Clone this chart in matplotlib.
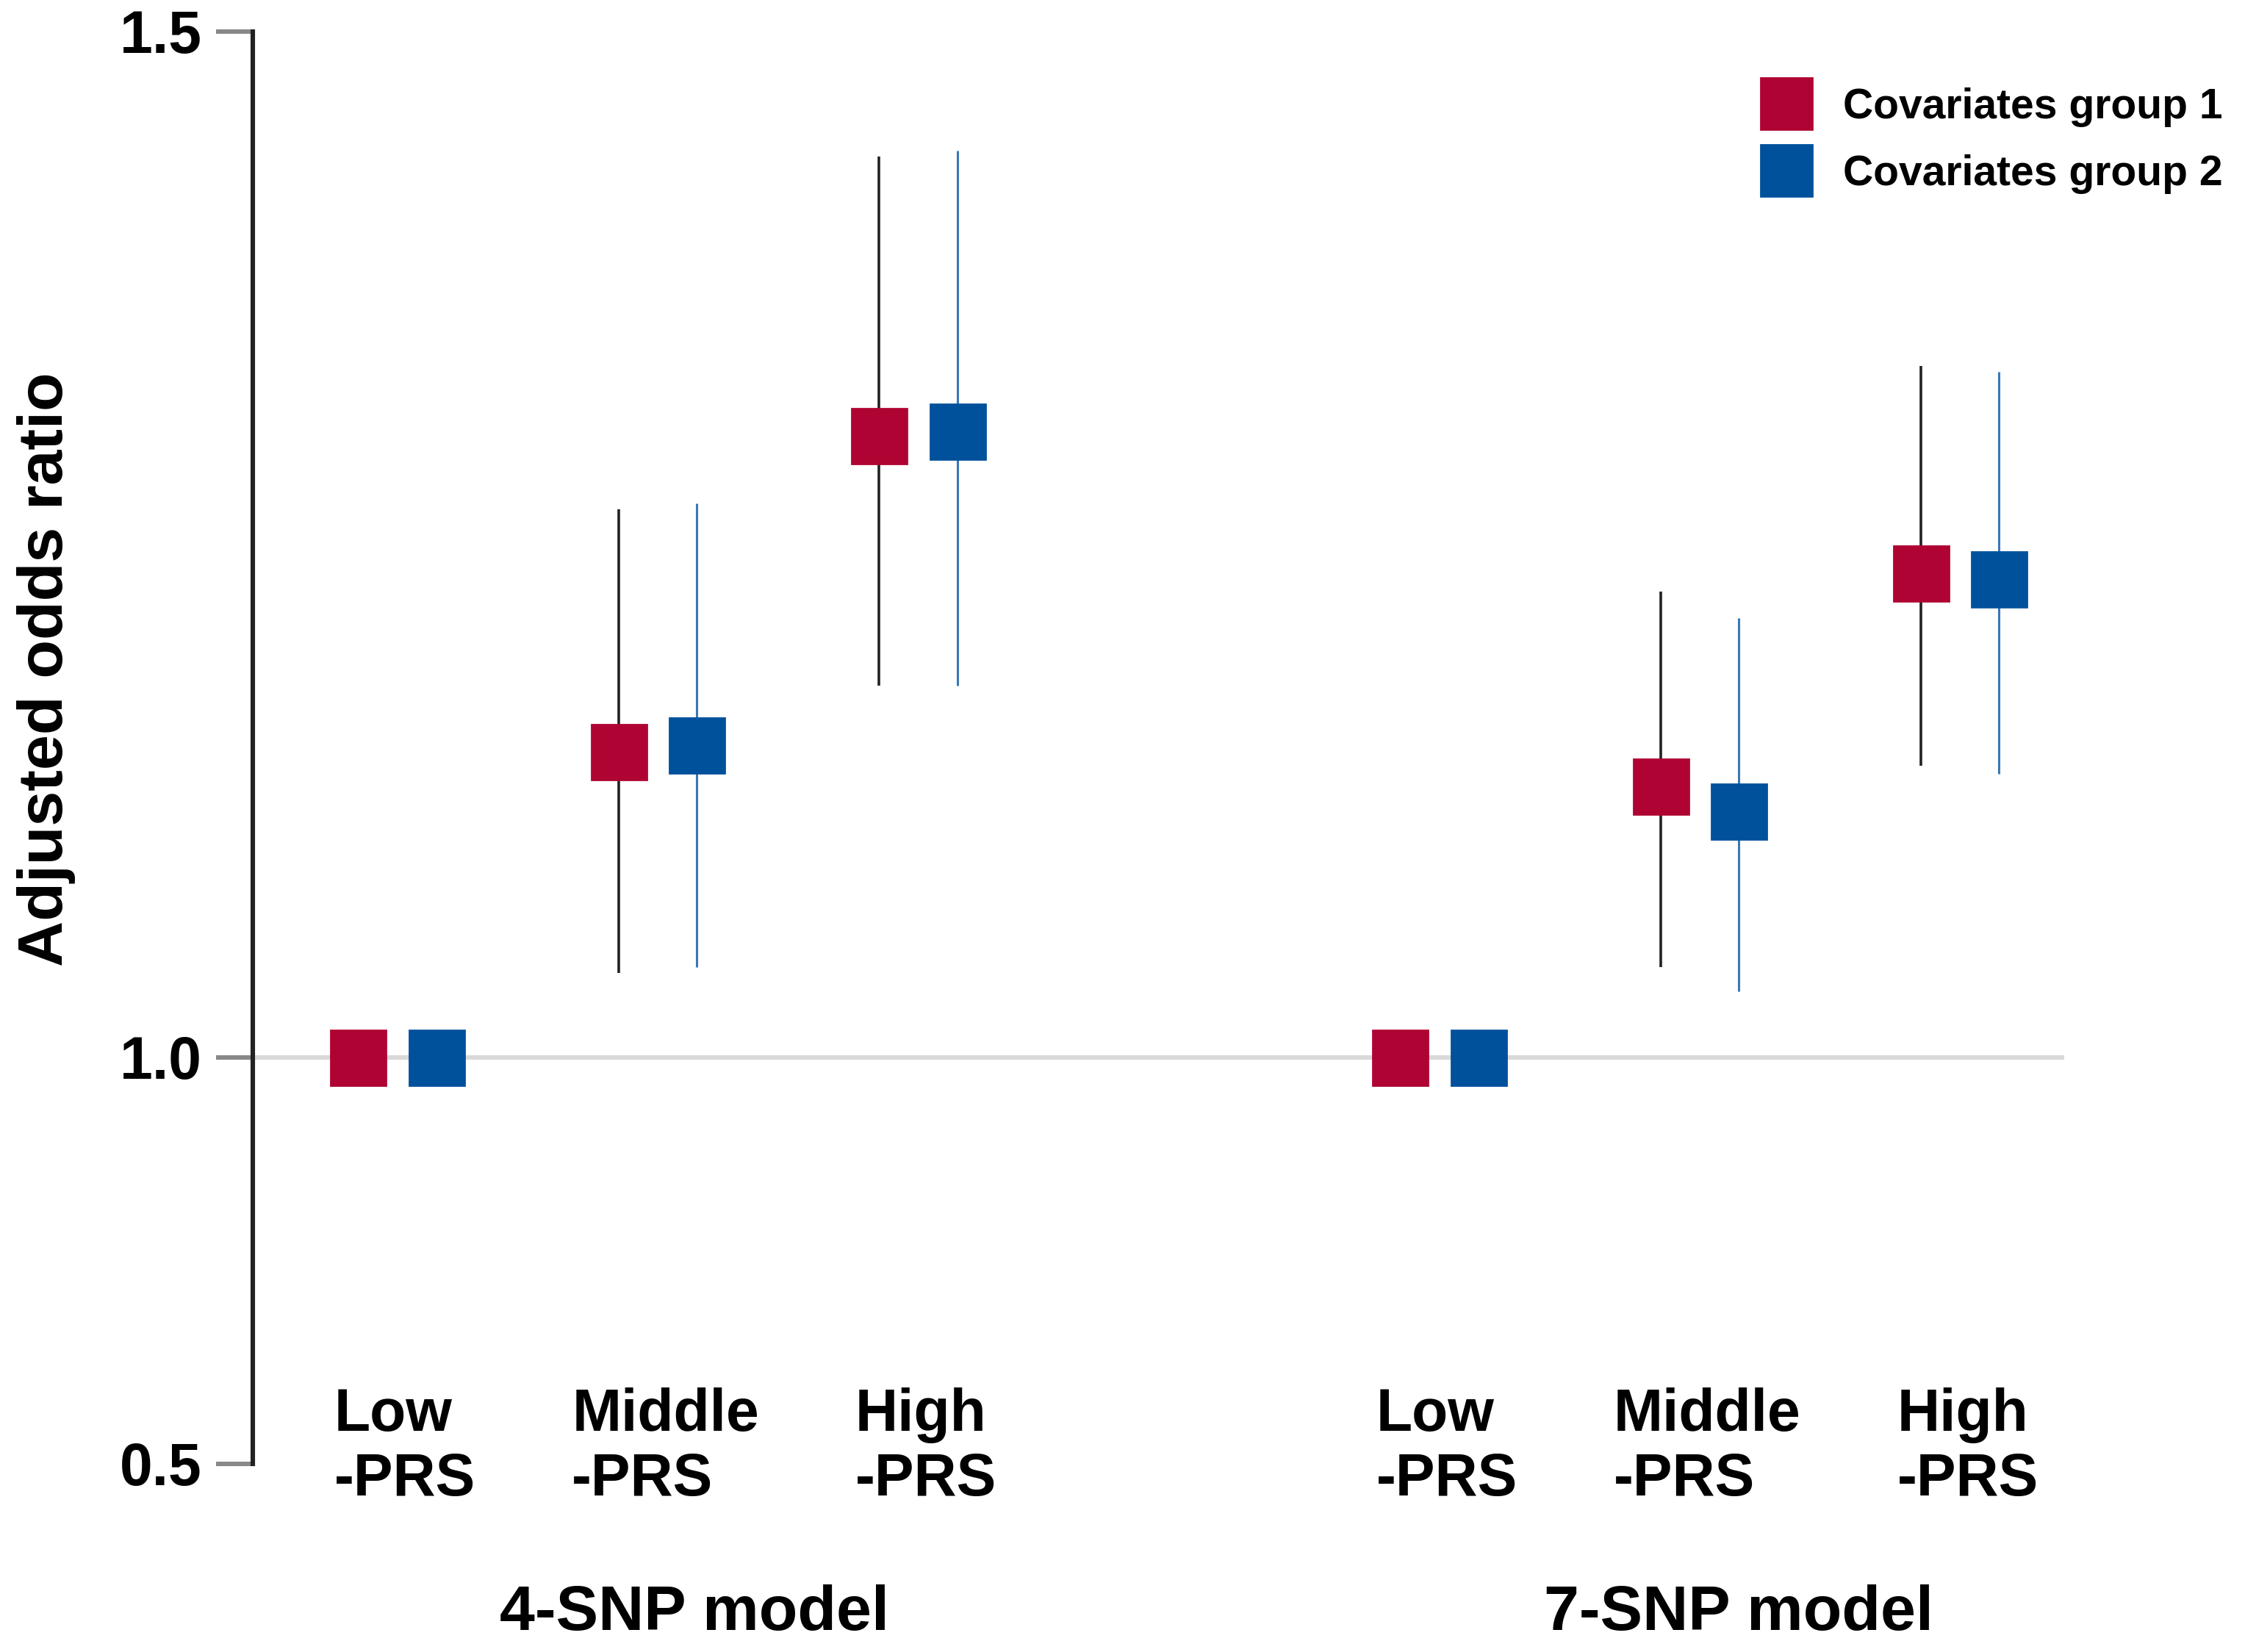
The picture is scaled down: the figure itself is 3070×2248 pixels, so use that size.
import matplotlib
matplotlib.use("Agg")
import matplotlib.pyplot as plt
from matplotlib.lines import Line2D
import numpy as np

plt.rcParams['font.family'] = ['Liberation Sans', 'DejaVu Sans']
plt.rcParams['font.weight'] = 'bold'

# data
models = ["4-SNP model", "7-SNP model"]
levels = ["Low\n-PRS", "Middle\n-PRS", "High\n-PRS"]
positions = [0, 1, 2, 4, 5, 6]

or_g1 = [1.0, 1.149, 1.303, 1.0, 1.132, 1.236]
lo_g1 = [1.0, 1.041, 1.181, 1.0, 1.044, 1.142]
hi_g1 = [1.0, 1.267, 1.439, 1.0, 1.227, 1.337]

or_g2 = [1.0, 1.152, 1.305, 1.0, 1.120, 1.233]
lo_g2 = [1.0, 1.044, 1.181, 1.0, 1.032, 1.138]
hi_g2 = [1.0, 1.270, 1.442, 1.0, 1.214, 1.334]

RED = "#AF0433"
BLUE = "#00519C"


# the y axis is squeezed below 1.0
def fwd(y):
    y = np.asarray(y, dtype=float)
    return np.where(y >= 1, y - 1, (y - 1) * 281 / 709)


def inv(u):
    u = np.asarray(u, dtype=float)
    return np.where(u >= 0, u + 1, u * 709 / 281 + 1)


fig = plt.figure(figsize=(15.35, 11.24), dpi=200)
ax = fig.add_axes([0.112, 0.114, 0.915 - 0.112, 0.981 - 0.114])
ax.set_yscale('function', functions=(fwd, inv))
ax.set_ylim(0.5, 1.5)
ax.set_xlim(-0.555, 6.4)

ax.axhline(1.0, color="#d9d9d9", lw=2.2, zorder=1)

x = np.array(positions, dtype=float)
ax.vlines(x - 0.15, lo_g1, hi_g1, color="#222222", lw=1.3, zorder=2)
ax.vlines(x + 0.15, lo_g2, hi_g2, color="#3a78b5", lw=1.1, zorder=2)
ax.plot(x - 0.15, or_g1, 's', color=RED, ms=27, ls='none', zorder=3)
ax.plot(x + 0.15, or_g2, 's', color=BLUE, ms=27, ls='none', zorder=3)

for s in ['top', 'right', 'bottom']:
    ax.spines[s].set_visible(False)
ax.spines['left'].set_color("#222222")
ax.spines['left'].set_linewidth(2.2)

ax.set_yticks([0.5, 1.0, 1.5])
ax.set_yticklabels(["0.5", "1.0", "1.5"], fontsize=29, fontweight='bold')
ax.tick_params(axis='y', length=18, width=2.2, color="#888888", pad=7)
ax.set_xticks([])

for i, p in enumerate(positions):
    ax.text(p + 0.03, 0.011, levels[i % 3], transform=ax.get_xaxis_transform(),
            ha='center', va='center', multialignment='left',
            fontsize=29, fontweight='bold', linespacing=1.2)

for j, m in enumerate(models):
    ax.text(1.14 + 4.01 * j, -0.105, m, transform=ax.get_xaxis_transform(),
            ha='center', va='center', fontsize=31, fontweight='bold')

fig.text(0.0205, 0.595, "Adjusted odds ratio", rotation=90,
         ha='center', va='center', fontsize=31, fontweight='bold')

handles = [
    Line2D([], [], marker='s', color=RED, ls='none', ms=25, label="Covariates group 1"),
    Line2D([], [], marker='s', color=BLUE, ls='none', ms=25, label="Covariates group 2"),
]
fig.legend(handles=handles, loc='upper left', bbox_to_anchor=(0.764, 0.97),
           frameon=False, handletextpad=0.75, labelspacing=0.65,
           handlelength=1.2, prop={'weight': 'bold', 'size': 20.5})

fig.savefig("out.png", dpi=200)
